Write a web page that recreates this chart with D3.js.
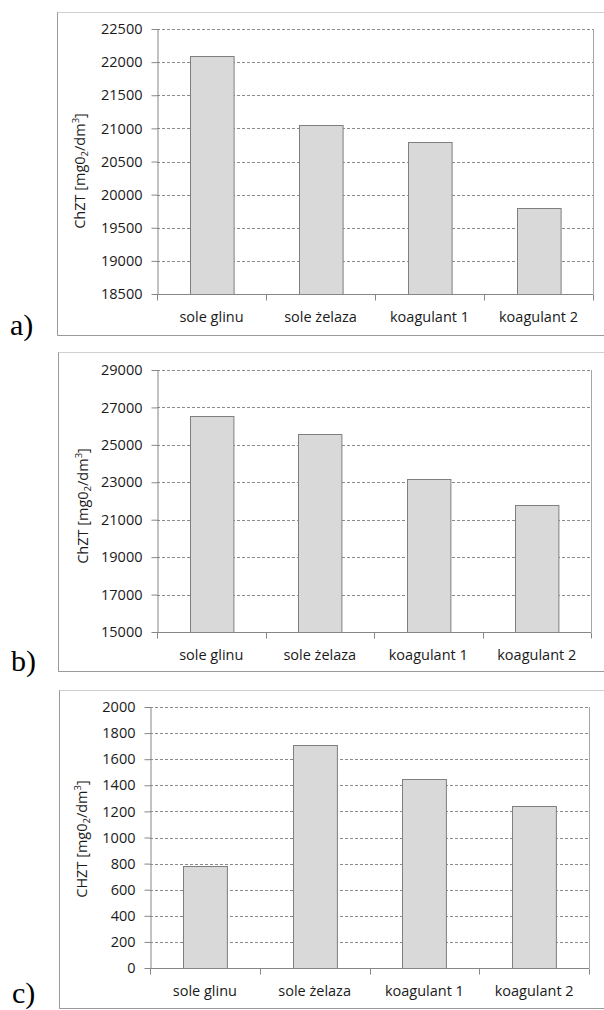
<!DOCTYPE html>
<html>
<head>
<meta charset="utf-8">
<script src="https://cdn.jsdelivr.net/npm/d3@7"></script>
<style>
    body { margin: 0; background: #fff; }
    svg { display: block; }
</style>
</head>
<body>
<svg id="board" width="604" height="1010"></svg>
<script>
// dane
const categories = ["sole glinu", "sole żelaza", "koagulant 1", "koagulant 2"];
const valuesA = [22100, 21050, 20790, 19800];
const valuesB = [26550, 25600, 23200, 21800];
const valuesC = [780, 1710, 1445, 1245];
const ticksA = [18500, 19000, 19500, 20000, 20500, 21000, 21500, 22000, 22500];
const ticksB = [15000, 17000, 19000, 21000, 23000, 25000, 27000, 29000];
const ticksC = [0, 200, 400, 600, 800, 1000, 1200, 1400, 1600, 1800, 2000];
const titlesY = ["ChZT", "ChZT", "CHZT"];
const letters = ["a)", "b)", "c)"];

// layout of the three panels
const panels = [
    { values: valuesA, ticks: ticksA, title: titlesY[0], letter: letters[0],
      frame: { x: 57.5, y: 12.5, b: 335.5 }, plot: { l: 157, r: 593, t: 29, b: 294 },
      titleX: 80, titleY: 171, letterX: 10, letterY: 335 },
    { values: valuesB, ticks: ticksB, title: titlesY[1], letter: letters[1],
      frame: { x: 58.5, y: 352.5, b: 671.5 }, plot: { l: 157, r: 591, t: 370, b: 632 },
      titleX: 83, titleY: 506, letterX: 11, letterY: 671 },
    { values: valuesC, ticks: ticksC, title: titlesY[2], letter: letters[2],
      frame: { x: 59.5, y: 690.5, b: 1008.5 }, plot: { l: 150, r: 589, t: 707, b: 968 },
      titleX: 82, titleY: 839, letterX: 12, letterY: 1003 }
];

const svg = d3.select("#board");
const fontSans = "'Open Sans', sans-serif";

function drawPanel(p) {
    const g = svg.append("g");

    // outer frame of the chart
    g.append("rect")
        .attr("x", p.frame.x).attr("y", p.frame.y)
        .attr("width", 620 - p.frame.x).attr("height", p.frame.b - p.frame.y)
        .attr("fill", "none").attr("stroke", "#cfcfcf");
    g.append("path")
        .attr("d", `M${p.frame.x},${p.frame.y}V${p.frame.b}H620`)
        .attr("fill", "none").attr("stroke", "#9a9a9a");

    const x = d3.scaleBand()
        .domain(categories)
        .range([p.plot.l, p.plot.r])
        .paddingInner(0.6)
        .paddingOuter(0.3);
    const y = d3.scaleLinear()
        .domain([p.ticks[0], p.ticks[p.ticks.length - 1]])
        .range([p.plot.b, p.plot.t]);

    // dashed gridlines
    g.append("g").selectAll("line")
        .data(p.ticks.slice(1))
        .join("line")
        .attr("x1", p.plot.l).attr("x2", p.plot.r)
        .attr("y1", d => Math.round(y(d)) + 0.5).attr("y2", d => Math.round(y(d)) + 0.5)
        .attr("stroke", "#8a8a8a")
        .attr("stroke-dasharray", "3,2");

    // right border of plot area
    g.append("line")
        .attr("x1", p.plot.r + 0.5).attr("x2", p.plot.r + 0.5)
        .attr("y1", p.plot.t).attr("y2", p.plot.b)
        .attr("stroke", "#a6a6a6");

    // bars
    g.append("g").selectAll("rect")
        .data(p.values)
        .join("rect")
        .attr("x", (d, j) => Math.round(x(categories[j])) + 0.5)
        .attr("y", d => Math.round(y(d)) + 0.5)
        .attr("width", x.bandwidth())
        .attr("height", d => Math.round(y(p.ticks[0])) - Math.round(y(d)))
        .attr("fill", "#d9d9d9")
        .attr("stroke", "#7f7f7f");

    // y axis
    const yAxis = g.append("g")
        .attr("transform", `translate(${p.plot.l + 0.5},0)`)
        .call(d3.axisLeft(y).tickValues(p.ticks).tickFormat(d3.format("d"))
            .tickSize(6).tickSizeOuter(0).tickPadding(9));
    yAxis.select(".domain").attr("stroke", "#868686");
    yAxis.selectAll(".tick line").attr("stroke", "#868686");
    yAxis.selectAll(".tick text")
        .attr("font-family", fontSans)
        .attr("font-size", 14.5)
        .attr("fill", "#1a1a1a");

    // x axis with ticks between categories
    const yBase = Math.round(y(p.ticks[0])) + 0.5;
    g.append("line")
        .attr("x1", p.plot.l).attr("x2", p.plot.r)
        .attr("y1", yBase).attr("y2", yBase)
        .attr("stroke", "#868686");
    g.append("g").selectAll("line")
        .data(d3.range(categories.length + 1))
        .join("line")
        .attr("x1", k => Math.round(p.plot.l + k * x.step()) + 0.5)
        .attr("x2", k => Math.round(p.plot.l + k * x.step()) + 0.5)
        .attr("y1", yBase).attr("y2", yBase + 6)
        .attr("stroke", "#868686");
    g.append("g").selectAll("text")
        .data(categories)
        .join("text")
        .attr("x", d => x(d) + x.bandwidth() / 2)
        .attr("y", yBase + 27.5)
        .attr("text-anchor", "middle")
        .attr("font-family", fontSans)
        .attr("font-size", 14.5)
        .attr("fill", "#1a1a1a")
        .text(d => d);

    // y axis title with subscript and superscript
    const title = g.append("text")
        .attr("transform", `translate(${p.titleX},${p.titleY}) rotate(-90)`)
        .attr("text-anchor", "middle")
        .attr("dy", "0.35em")
        .attr("font-family", fontSans)
        .attr("font-size", 14.5)
        .attr("fill", "#1a1a1a");
    title.append("tspan").text(p.title + " [mg0");
    title.append("tspan").attr("font-size", 9.5).attr("dy", 3).text("2");
    title.append("tspan").attr("dy", -3).text("/dm");
    title.append("tspan").attr("font-size", 9.5).attr("dy", -6).text("3");
    title.append("tspan").attr("dy", 6).text("]");

    // panel letter
    g.append("text")
        .attr("x", p.letterX)
        .attr("y", p.letterY)
        .attr("font-family", "'Liberation Serif', 'Times New Roman', serif")
        .attr("font-size", 30)
        .attr("fill", "#000")
        .text(p.letter);
}

panels.forEach(drawPanel);
</script>
</body>
</html>
